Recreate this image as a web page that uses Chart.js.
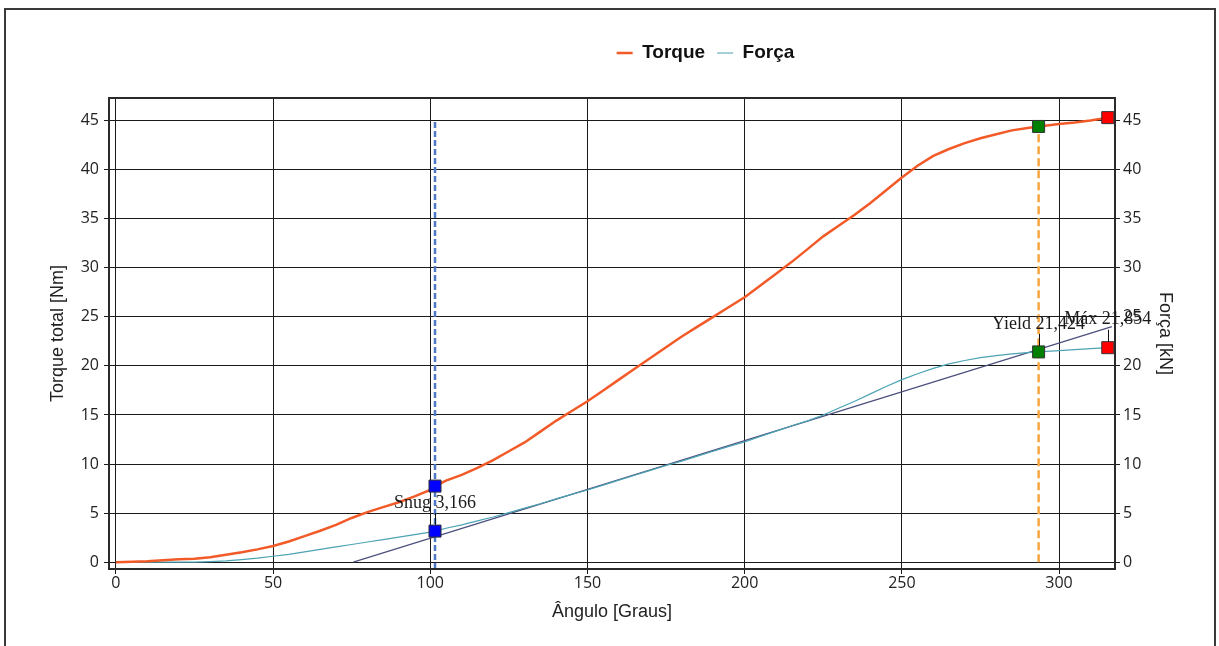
<!DOCTYPE html>
<html>
<head>
<meta charset="utf-8">
<script src="https://cdn.jsdelivr.net/npm/chart.js@4.4.1/dist/chart.umd.min.js"></script>
<style>
  html, body { margin: 0; padding: 0; background: #fff; overflow: hidden; }
  #frame { position: absolute; left: 4px; top: 8px; width: 1212px; height: 700px; box-sizing: border-box; border: 2px solid #3a3a3a; pointer-events: none; }
  canvas { position: absolute; left: 0; top: 0; }
</style>
</head>
<body>
<canvas id="torqueChart" width="1219" height="646"></canvas>
<div id="frame"></div>
<script>
// angle [graus] with torque [Nm] and força [kN]
const angle  = [0, 10, 20, 25, 30, 35, 40, 45, 50, 55, 60, 65, 70, 75, 80, 85, 90, 95, 100, 101.5,
                105, 110, 115, 120, 125, 130, 135, 140, 145, 150, 155, 160, 165, 170, 175, 180, 185, 190, 195, 200,
                205, 210, 215, 220, 225, 230, 235, 240, 245, 250, 255, 260, 265, 270, 275, 280, 285, 290,
                293.5, 300, 305, 310, 315.5];
const torque = [0, 0.1, 0.3, 0.35, 0.5, 0.75, 1.0, 1.3, 1.65, 2.1, 2.65, 3.2, 3.8, 4.5, 5.1, 5.6, 6.1, 6.7, 7.35, 7.75,
                8.3, 8.9, 9.6, 10.4, 11.3, 12.2, 13.3, 14.4, 15.4, 16.4, 17.5, 18.6, 19.7, 20.8, 21.9, 23.0, 24.0, 25.0, 26.0, 27.0,
                28.2, 29.4, 30.6, 31.9, 33.2, 34.3, 35.4, 36.6, 37.9, 39.2, 40.4, 41.4, 42.1, 42.7, 43.2, 43.6, 44.0, 44.25,
                44.4, 44.65, 44.8, 45.0, 45.3];
const forca  = [0, 0, 0, 0, 0.05, 0.12, 0.25, 0.4, 0.6, 0.8, 1.05, 1.3, 1.55, 1.8, 2.05, 2.3, 2.55, 2.8, 3.05, 3.166,
                3.45, 3.8, 4.2, 4.6, 5.05, 5.5, 5.95, 6.45, 6.9, 7.35, 7.85, 8.35, 8.85, 9.35, 9.85, 10.3, 10.8, 11.3, 11.8, 12.25,
                12.8, 13.35, 13.9, 14.4, 15.0, 15.7, 16.4, 17.15, 17.9, 18.6, 19.2, 19.75, 20.2, 20.55, 20.85, 21.05, 21.22, 21.35,
                21.424, 21.55, 21.65, 21.75, 21.854];

// offset (elastic) line on the força axis
const refAngle = [75.5, 316.8];
const refForca = [0, 24.0];

// snug / yield / max points
const markerNames  = ['Snug', 'Yield', 'Máx'];
const markerAngle  = [101.5, 293.5, 315.5];
const markerTorque = [7.75, 44.4, 45.3];
const markerForca  = [3.166, 21.424, 21.854];
const markerColors = ['#0000ff', '#008000', '#ff0000'];

// axis ranges
const xMin = -2.2, xMax = 317.8;
const yMin = -0.7, yMax = 47.3;

function pts(xs, ys) {
    return xs.map((v, i) => ({ x: v, y: ys[i] }));
}

const tickFont = { family: 'Open Sans', size: 16 };
const titleFont = { family: 'Liberation Sans', size: 18 };

// border round the plot area + the value labels above the força markers
const plotDecor = {
    id: 'plotDecor',
    afterLayout(chart) {
        // legend sits right of centre in the original
        chart.legend.left += 96;
        chart.legend.right += 96;
    },
    afterDatasetsDraw(chart) {
        const ctx = chart.ctx;
        const a = chart.chartArea;
        const xs = chart.scales.x, ys = chart.scales.y1;
        ctx.save();
        ctx.strokeStyle = '#2a2a2a';
        ctx.lineWidth = 2;
        ctx.strokeRect(a.left, a.top, a.right - a.left, a.bottom - a.top);
        ctx.font = '18px "Liberation Serif"';
        ctx.textAlign = 'center';
        ctx.textBaseline = 'middle';
        ctx.fillStyle = '#1a1a1a';
        ctx.strokeStyle = '#111';
        ctx.lineWidth = 1;
        for (let i = 0; i < markerNames.length; i++) {
            const px = xs.getPixelForValue(markerAngle[i]);
            const py = ys.getPixelForValue(markerForca[i]);
            ctx.beginPath();
            ctx.moveTo(Math.round(px) + 0.5, py - 6);
            ctx.lineTo(Math.round(px) + 0.5, py - 18);
            ctx.stroke();
            const txt = markerNames[i] + ' ' + markerForca[i].toFixed(3).replace('.', ',');
            ctx.fillText(txt, px, py - 28);
        }
        ctx.restore();
    }
};

const ctx = document.getElementById('torqueChart').getContext('2d');
new Chart(ctx, {
    type: 'line',
    data: {
        datasets: [
            {
                label: 'Torque',
                data: pts(angle, torque),
                borderColor: '#f25a28',
                backgroundColor: '#f25a28',
                borderWidth: 2.5,
                pointRadius: 0,
                yAxisID: 'y',
                order: 2
            },
            {
                label: 'Força',
                data: pts(angle, forca),
                borderColor: '#4ba3b3',
                backgroundColor: '#4ba3b3',
                borderWidth: 1.2,
                pointRadius: 0,
                yAxisID: 'y1',
                order: 3
            },
            {
                label: 'offset',
                data: pts(refAngle, refForca),
                borderColor: '#4b4f7c',
                borderWidth: 1.2,
                pointRadius: 0,
                yAxisID: 'y1',
                order: 4
            },
            {
                label: 'snug line',
                data: pts([markerAngle[0], markerAngle[0]], [yMin, 45]),
                borderColor: '#4f78c4',
                borderWidth: 2.5,
                borderDash: [6, 3],
                pointRadius: 0,
                yAxisID: 'y',
                order: 5
            },
            {
                label: 'yield line',
                data: pts([markerAngle[1], markerAngle[1]], [0, markerTorque[1]]),
                borderColor: '#f8a540',
                borderWidth: 2.5,
                borderDash: [8, 4],
                pointRadius: 0,
                yAxisID: 'y',
                order: 5
            },
            {
                label: 'torque points',
                data: pts(markerAngle, markerTorque),
                showLine: false,
                pointStyle: 'rect',
                pointRadius: 8.5,
                pointBackgroundColor: markerColors,
                pointBorderColor: '#333',
                pointBorderWidth: 1,
                yAxisID: 'y',
                order: 0
            },
            {
                label: 'força points',
                data: pts(markerAngle, markerForca),
                showLine: false,
                pointStyle: 'rect',
                pointRadius: 8.5,
                pointBackgroundColor: markerColors,
                pointBorderColor: '#333',
                pointBorderWidth: 1,
                yAxisID: 'y1',
                order: 0
            }
        ]
    },
    options: {
        responsive: false,
        animation: false,
        layout: { padding: { top: 31.5, left: 0, right: 0, bottom: 0 } },
        plugins: {
            legend: {
                position: 'top',
                labels: {
                    usePointStyle: true,
                    pointStyle: 'line',
                    pointStyleWidth: 16,
                    padding: 12,
                    color: '#111',
                    font: { family: 'Liberation Sans', size: 19, weight: 'bold' },
                    filter: (item) => item.datasetIndex < 2
                }
            },
            // empty spacer between legend and plot
            subtitle: {
                display: true,
                text: '',
                weight: 500,
                font: { size: 10, lineHeight: 1 },
                padding: { top: 0, bottom: 15.5 }
            },
            tooltip: { enabled: false }
        },
        scales: {
            x: {
                type: 'linear',
                position: 'bottom',
                min: xMin,
                max: xMax,
                ticks: { stepSize: 50, includeBounds: false, font: tickFont, color: '#222', padding: 0, maxRotation: 0 },
                grid: { color: '#1a1a1a', lineWidth: 1, tickLength: 5 },
                border: { display: false },
                title: { display: true, text: 'Ângulo [Graus]', font: titleFont, color: '#222', padding: { top: 0, bottom: 23 } },
                afterFit: (scale) => { scale.height = 77; }
            },
            y: {
                position: 'left',
                min: yMin,
                max: yMax,
                ticks: { stepSize: 5, includeBounds: false, font: tickFont, color: '#222', padding: 5 },
                grid: { color: '#1a1a1a', lineWidth: 1, tickLength: 5 },
                border: { display: false },
                title: { display: true, text: 'Torque total [Nm]', font: titleFont, color: '#222', padding: { top: 47, bottom: 0 } },
                afterFit: (scale) => { scale.width = 109; }
            },
            y1: {
                position: 'right',
                min: yMin,
                max: yMax,
                ticks: { stepSize: 5, includeBounds: false, font: tickFont, color: '#222', padding: 3 },
                grid: { drawOnChartArea: false, color: '#1a1a1a', lineWidth: 1, tickLength: 5 },
                border: { display: false },
                title: { display: true, text: 'Força [kN]', font: titleFont, color: '#222', padding: { top: 43, bottom: 0 } },
                afterFit: (scale) => { scale.width = 104; }
            }
        }
    },
    plugins: [plotDecor]
});
</script>
</body>
</html>
